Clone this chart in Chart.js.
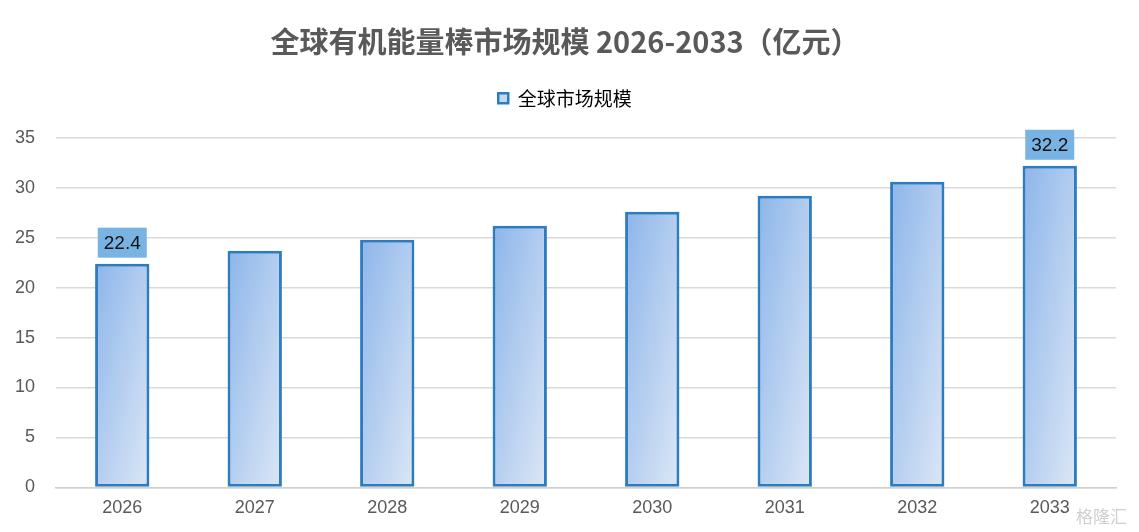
<!DOCTYPE html>
<html>
<head>
<meta charset="utf-8">
<script src="https://cdn.jsdelivr.net/npm/chart.js@4/dist/chart.umd.min.js"></script>
<style>
  html, body { margin: 0; padding: 0; background: #fff; }
  #wrap { width: 1139px; height: 532px; position: relative; }
  #mark { position: absolute; right: 12px; bottom: 4px; font: 17px "Noto Sans CJK SC"; color: #cfcfcf; }
</style>
</head>
<body>
<div id="wrap">
  <canvas id="marketChart"></canvas>
  <div id="mark">格隆汇</div>
</div>
<script>
const years = ['2026', '2027', '2028', '2029', '2030', '2031', '2032', '2033'];
const marketSize = [22.4, 23.7, 24.8, 26.2, 27.6, 29.2, 30.6, 32.2];
const labelledIdx = [0, 7];
const yTicks = [0, 5, 10, 15, 20, 25, 30, 35];

const cjkFont = '"Microsoft YaHei", "Noto Sans CJK SC", sans-serif';
const numFont = '"Liberation Sans", Arial, sans-serif';
const BAR_PCT = 0.41;

// diagonal gradient relative to each bar's own box (top-left dark, bottom-right light)
function barGradient(ctx) {
  const chart = ctx.chart;
  const xs = chart.scales.x;
  const ys = chart.scales.y;
  if (!chart.chartArea || !xs || !ys) return '#a9c8ef';
  const cx = xs.getPixelForValue(ctx.dataIndex);
  const w = (xs.width / years.length) * BAR_PCT;
  const top = ys.getPixelForValue(marketSize[ctx.dataIndex]);
  const h = ys.getPixelForValue(0) - top;
  const left = cx - w / 2;
  const t = (2 * w * h) / (w * w + h * h);
  const g = chart.ctx.createLinearGradient(left, top, left + t * h, top + t * w);
  g.addColorStop(0, '#8cb5ea');
  g.addColorStop(1, '#dce7f6');
  return g;
}

// extra space under the legend
const legendGap = {
  id: 'legendGap',
  beforeInit(chart) {
    const fit = chart.legend.fit;
    chart.legend.fit = function () {
      fit.call(this);
      this.height += 20;
    };
  },
};

// boxed value labels above first and last bar
const valueLabels = {
  id: 'valueLabels',
  afterDatasetsDraw(chart) {
    const c = chart.ctx;
    const meta = chart.getDatasetMeta(0);
    c.save();
    c.font = '19px ' + numFont;
    c.textAlign = 'center';
    c.textBaseline = 'middle';
    labelledIdx.forEach((i) => {
      const bar = meta.data[i];
      const text = String(marketSize[i]);
      const w = c.measureText(text).width + 12;
      const h = 30;
      const cy = bar.y - 21;
      c.fillStyle = '#78b3e3';
      c.fillRect(bar.x - w / 2, cy - h / 2, w, h);
      c.fillStyle = '#111';
      c.fillText(text, bar.x, cy + 1);
    });
    c.restore();
  },
};

new Chart(document.getElementById('marketChart').getContext('2d'), {
  type: 'bar',
  data: {
    labels: years,
    datasets: [
      {
        label: '全球市场规模',
        data: marketSize,
        backgroundColor: barGradient,
        borderColor: '#2e7cc0',
        borderWidth: 3,
        borderSkipped: false,
        barPercentage: BAR_PCT,
        categoryPercentage: 1,
      },
    ],
  },
  options: {
    responsive: true,
    maintainAspectRatio: false,
    animation: false,
    layout: { padding: { left: 14, right: 23, top: 0, bottom: 11 } },
    plugins: {
      title: {
        display: true,
        text: '全球有机能量棒市场规模 2026-2033（亿元）',
        color: '#595959',
        font: { family: cjkFont, size: 29, weight: 'bold' },
        padding: { top: 25, bottom: 21 },
      },
      legend: {
        display: true,
        labels: {
          color: '#595959',
          font: { family: cjkFont, size: 19 },
          boxWidth: 10,
          boxHeight: 10,
          padding: 8,
          generateLabels: () => [
            {
              text: '全球市场规模',
              fillStyle: '#c3d8f3',
              strokeStyle: '#2e7cc0',
              lineWidth: 2.5,
              datasetIndex: 0,
            },
          ],
        },
      },
      tooltip: { enabled: false },
    },
    scales: {
      x: {
        grid: { display: false },
        border: { color: '#d0d0d0', width: 1.5 },
        ticks: { color: '#595959', font: { family: numFont, size: 18 }, padding: 2 },
      },
      y: {
        min: 0,
        max: 35,
        afterBuildTicks: (axis) => { axis.ticks = yTicks.map((v) => ({ value: v })); },
        afterFit: (axis) => { axis.width = 42; },
        grid: { color: '#d9d9d9', lineWidth: 1.5, drawTicks: false },
        border: { display: false },
        ticks: { color: '#595959', font: { family: numFont, size: 18 }, padding: 21 },
      },
    },
  },
  plugins: [legendGap, valueLabels],
});
</script>
</body>
</html>
